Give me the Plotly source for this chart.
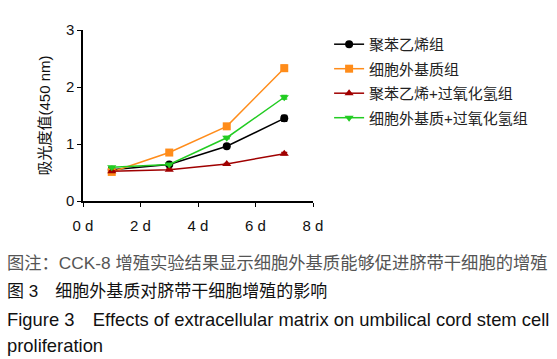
import plotly.graph_objects as go

days = [1, 3, 5, 7]
names = ["聚苯乙烯组", "细胞外基质组", "聚苯乙烯+过氧化氢组", "细胞外基质+过氧化氢组"]
ps = [0.55, 0.64, 0.96, 1.45]
ecm = [0.51, 0.85, 1.31, 2.33]
ps_h2o2 = [0.52, 0.55, 0.65, 0.83]
ecm_h2o2 = [0.59, 0.64, 1.11, 1.82]
ps_err = [0.02, 0.02, 0.02, 0.05]
ecm_err = [0.02, 0.02, 0.03, 0.05]
ps_h2o2_err = [0.01, 0.01, 0.01, 0.02]
ecm_h2o2_err = [0.01, 0.01, 0.02, 0.03]
xticks = [0, 2, 4, 6, 8]
xticklabels = ["0 d", "2 d", "4 d", "6 d", "8 d"]
yticks = [0, 1, 2, 3]

series = [
    (ps, ps_err, "#000000", "circle"),
    (ecm, ecm_err, "#ff8c1a", "square"),
    (ps_h2o2, ps_h2o2_err, "#a00000", "triangle-up"),
    (ecm_h2o2, ecm_h2o2_err, "#22cc22", "triangle-down"),
]

FONT = "Liberation Sans, Arial, Noto Sans CJK SC"
fig = go.Figure()
for i, (name, (vals, err, col, sym)) in enumerate(zip(names, series)):
    fig.add_trace(go.Scatter(
        x=days, y=vals, name=name, mode="lines+markers", legendgroup=f"g{i}",
        line=dict(color=col, width=1.5),
        marker=dict(color=col, symbol=sym, size=8),
        error_y=dict(type="data", array=err, color=col, thickness=1.5, width=3),
    ))

fig.update_layout(
    width=557, height=359,
    margin=dict(l=83, r=244, t=30, b=158),
    paper_bgcolor="white", plot_bgcolor="white",
    font=dict(family=FONT, size=15, color="#111"),
    showlegend=True,
    legend=dict(x=1.07, y=1.012, xanchor="left", yanchor="top",
                font=dict(size=15, color="#222"), itemwidth=30,
                tracegroupgap=2, bgcolor="rgba(0,0,0,0)"),
    xaxis=dict(range=[0, 8], tickvals=xticks, ticktext=xticklabels,
               showline=True, linecolor="black", linewidth=1.5,
               ticks="outside", ticklen=4, tickcolor="black",
               ticklabelstandoff=6,
               showgrid=False, zeroline=False, tickfont=dict(size=15)),
    yaxis=dict(range=[0, 3], tickvals=yticks,
               showline=True, linecolor="black", linewidth=1.5,
               ticks="outside", ticklen=4, tickcolor="black",
               showgrid=False, zeroline=False, tickfont=dict(size=15),
               title=dict(text="吸光度值(450 nm)", font=dict(size=15), standoff=12)),
)

def py(p):
    return (201 - p) / 171.0

def px(p):
    return (p - 83) / 230.0

captions = [
    ("图注：CCK-8 增殖实验结果显示细胞外基质能够促进脐带干细胞的增殖", 263, "#555", 17.3),
    ("图 3　细胞外基质对脐带干细胞增殖的影响", 291, "#111", 17),
    ("Figure 3　Effects of extracellular matrix on umbilical cord stem cell", 319, "#111", 18.4),
    ("proliferation", 345, "#111", 18.4),
]
for text, y, col, sz in captions:
    fig.add_annotation(text=text, xref="paper", yref="paper", x=px(5), y=py(y),
                       xanchor="left", yanchor="middle", showarrow=False,
                       font=dict(size=sz, color=col, family=FONT))

fig.write_html("out.html")
